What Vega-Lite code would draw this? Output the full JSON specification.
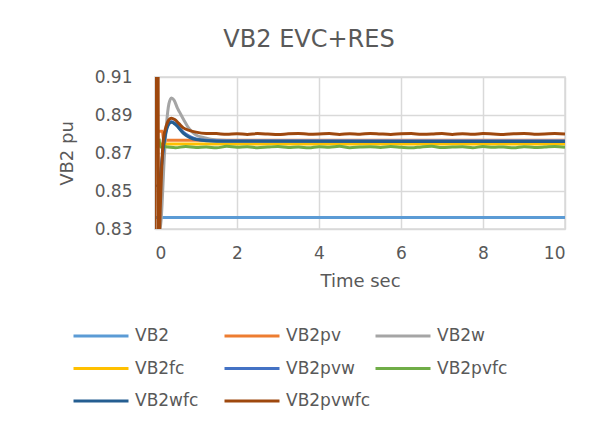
{
  "$schema": "https://vega.github.io/schema/vega-lite/v6.json",
  "width": 410,
  "height": 152,
  "autosize": {"type": "none"},
  "padding": {"left": 155, "top": 77, "right": 48, "bottom": 193},
  "background": "white",
  "title": {"text": "VB2 EVC+RES", "fontSize": 24, "font": "DejaVu Sans", "fontWeight": "normal", "color": "#595959", "anchor": "middle", "dx": -51, "offset": 16},
  "data": {"values": [
    {"t": 0, "s": "VB2", "v": 0.836}, {"t": 10, "s": "VB2", "v": 0.836},

    {"t": 0, "s": "VB2pv", "v": 0.8815}, {"t": 0.18, "s": "VB2pv", "v": 0.8815}, {"t": 0.21, "s": "VB2pv", "v": 0.8767}, {"t": 10, "s": "VB2pv", "v": 0.8767},

    {"t": 0, "s": "VB2w", "v": 0.83}, {"t": 0.08, "s": "VB2w", "v": 0.826}, {"t": 0.15, "s": "VB2w", "v": 0.835}, {"t": 0.17, "s": "VB2w", "v": 0.842}, {"t": 0.22, "s": "VB2w", "v": 0.865}, {"t": 0.28, "s": "VB2w", "v": 0.885}, {"t": 0.34, "s": "VB2w", "v": 0.896}, {"t": 0.4, "s": "VB2w", "v": 0.899}, {"t": 0.46, "s": "VB2w", "v": 0.898}, {"t": 0.55, "s": "VB2w", "v": 0.8935}, {"t": 0.6, "s": "VB2w", "v": 0.8915}, {"t": 0.7, "s": "VB2w", "v": 0.8875}, {"t": 0.8, "s": "VB2w", "v": 0.8838}, {"t": 0.9, "s": "VB2w", "v": 0.8812}, {"t": 1.0, "s": "VB2w", "v": 0.8795}, {"t": 1.2, "s": "VB2w", "v": 0.878}, {"t": 1.5, "s": "VB2w", "v": 0.8768}, {"t": 2, "s": "VB2w", "v": 0.8764}, {"t": 10, "s": "VB2w", "v": 0.8764},

    {"t": 0.05, "s": "VB2fc", "v": 0.8747}, {"t": 10, "s": "VB2fc", "v": 0.8747},

    {"t": 0.05, "s": "VB2pvw", "v": 0.8575}, {"t": 0.12, "s": "VB2pvw", "v": 0.8575}, {"t": 0.17, "s": "VB2pvw", "v": 0.866}, {"t": 0.22, "s": "VB2pvw", "v": 0.876}, {"t": 0.28, "s": "VB2pvw", "v": 0.883}, {"t": 0.35, "s": "VB2pvw", "v": 0.886}, {"t": 0.4, "s": "VB2pvw", "v": 0.8865}, {"t": 0.5, "s": "VB2pvw", "v": 0.8853}, {"t": 0.6, "s": "VB2pvw", "v": 0.883}, {"t": 0.7, "s": "VB2pvw", "v": 0.8807}, {"t": 0.85, "s": "VB2pvw", "v": 0.8786}, {"t": 1.0, "s": "VB2pvw", "v": 0.8774}, {"t": 1.3, "s": "VB2pvw", "v": 0.8766}, {"t": 2, "s": "VB2pvw", "v": 0.8763}, {"t": 10, "s": "VB2pvw", "v": 0.8763},

    {"t": 0.1, "s": "VB2pvfc", "v": 0.8775}, {"t": 0.13, "s": "VB2pvfc", "v": 0.8731},
    {"t": 0.25, "s": "VB2pvfc", "v": 0.8733}, {"t": 0.5, "s": "VB2pvfc", "v": 0.8728}, {"t": 0.75, "s": "VB2pvfc", "v": 0.8734}, {"t": 1.0, "s": "VB2pvfc", "v": 0.8729}, {"t": 1.25, "s": "VB2pvfc", "v": 0.8732}, {"t": 1.5, "s": "VB2pvfc", "v": 0.8727}, {"t": 1.75, "s": "VB2pvfc", "v": 0.8735}, {"t": 2.0, "s": "VB2pvfc", "v": 0.873}, {"t": 2.25, "s": "VB2pvfc", "v": 0.8733}, {"t": 2.5, "s": "VB2pvfc", "v": 0.8728}, {"t": 2.75, "s": "VB2pvfc", "v": 0.8731}, {"t": 3.0, "s": "VB2pvfc", "v": 0.8734}, {"t": 3.25, "s": "VB2pvfc", "v": 0.8729}, {"t": 3.5, "s": "VB2pvfc", "v": 0.8732}, {"t": 3.75, "s": "VB2pvfc", "v": 0.8727}, {"t": 4.0, "s": "VB2pvfc", "v": 0.8733}, {"t": 4.25, "s": "VB2pvfc", "v": 0.873}, {"t": 4.5, "s": "VB2pvfc", "v": 0.8735}, {"t": 4.75, "s": "VB2pvfc", "v": 0.8728}, {"t": 5.0, "s": "VB2pvfc", "v": 0.8731}, {"t": 5.25, "s": "VB2pvfc", "v": 0.8733}, {"t": 5.5, "s": "VB2pvfc", "v": 0.8729}, {"t": 5.75, "s": "VB2pvfc", "v": 0.8734}, {"t": 6.0, "s": "VB2pvfc", "v": 0.873}, {"t": 6.25, "s": "VB2pvfc", "v": 0.8727}, {"t": 6.5, "s": "VB2pvfc", "v": 0.8732}, {"t": 6.75, "s": "VB2pvfc", "v": 0.8735}, {"t": 7.0, "s": "VB2pvfc", "v": 0.8729}, {"t": 7.25, "s": "VB2pvfc", "v": 0.8731}, {"t": 7.5, "s": "VB2pvfc", "v": 0.8733}, {"t": 7.75, "s": "VB2pvfc", "v": 0.8728}, {"t": 8.0, "s": "VB2pvfc", "v": 0.8734}, {"t": 8.25, "s": "VB2pvfc", "v": 0.873}, {"t": 8.5, "s": "VB2pvfc", "v": 0.8732}, {"t": 8.75, "s": "VB2pvfc", "v": 0.8727}, {"t": 9.0, "s": "VB2pvfc", "v": 0.8733}, {"t": 9.25, "s": "VB2pvfc", "v": 0.8729}, {"t": 9.5, "s": "VB2pvfc", "v": 0.8731}, {"t": 9.75, "s": "VB2pvfc", "v": 0.8734}, {"t": 10.0, "s": "VB2pvfc", "v": 0.873},

    {"t": 0.05, "s": "VB2wfc", "v": 0.852}, {"t": 0.12, "s": "VB2wfc", "v": 0.856}, {"t": 0.2, "s": "VB2wfc", "v": 0.872}, {"t": 0.3, "s": "VB2wfc", "v": 0.8835}, {"t": 0.4, "s": "VB2wfc", "v": 0.8862}, {"t": 0.5, "s": "VB2wfc", "v": 0.885}, {"t": 0.7, "s": "VB2wfc", "v": 0.8802}, {"t": 1.0, "s": "VB2wfc", "v": 0.8771}, {"t": 1.5, "s": "VB2wfc", "v": 0.8762}, {"t": 10, "s": "VB2wfc", "v": 0.876},

    {"t": 0, "s": "VB2pvwfc", "v": 0.8}, {"t": 0.02, "s": "VB2pvwfc", "v": 0.95}, {"t": 0.07, "s": "VB2pvwfc", "v": 0.95}, {"t": 0.09, "s": "VB2pvwfc", "v": 0.8}, {"t": 0.11, "s": "VB2pvwfc", "v": 0.826}, {"t": 0.13, "s": "VB2pvwfc", "v": 0.842}, {"t": 0.16, "s": "VB2pvwfc", "v": 0.86}, {"t": 0.2, "s": "VB2pvwfc", "v": 0.8765}, {"t": 0.28, "s": "VB2pvwfc", "v": 0.8847}, {"t": 0.34, "s": "VB2pvwfc", "v": 0.8875}, {"t": 0.4, "s": "VB2pvwfc", "v": 0.8883}, {"t": 0.48, "s": "VB2pvwfc", "v": 0.8876}, {"t": 0.58, "s": "VB2pvwfc", "v": 0.8856}, {"t": 0.69, "s": "VB2pvwfc", "v": 0.8832}, {"t": 0.85, "s": "VB2pvwfc", "v": 0.8818}, {"t": 1.0, "s": "VB2pvwfc", "v": 0.881}, {"t": 1.25, "s": "VB2pvwfc", "v": 0.8803},
    {"t": 1.5, "s": "VB2pvwfc", "v": 0.8802}, {"t": 1.75, "s": "VB2pvwfc", "v": 0.8799}, {"t": 2.0, "s": "VB2pvwfc", "v": 0.8801}, {"t": 2.25, "s": "VB2pvwfc", "v": 0.8798}, {"t": 2.5, "s": "VB2pvwfc", "v": 0.8802}, {"t": 2.75, "s": "VB2pvwfc", "v": 0.88}, {"t": 3.0, "s": "VB2pvwfc", "v": 0.8797}, {"t": 3.25, "s": "VB2pvwfc", "v": 0.8801}, {"t": 3.5, "s": "VB2pvwfc", "v": 0.8803}, {"t": 3.75, "s": "VB2pvwfc", "v": 0.8799}, {"t": 4.0, "s": "VB2pvwfc", "v": 0.88}, {"t": 4.25, "s": "VB2pvwfc", "v": 0.8802}, {"t": 4.5, "s": "VB2pvwfc", "v": 0.8798}, {"t": 4.75, "s": "VB2pvwfc", "v": 0.8801}, {"t": 5.0, "s": "VB2pvwfc", "v": 0.8799}, {"t": 5.25, "s": "VB2pvwfc", "v": 0.8803}, {"t": 5.5, "s": "VB2pvwfc", "v": 0.88}, {"t": 5.75, "s": "VB2pvwfc", "v": 0.8798}, {"t": 6.0, "s": "VB2pvwfc", "v": 0.8801}, {"t": 6.25, "s": "VB2pvwfc", "v": 0.8802}, {"t": 6.5, "s": "VB2pvwfc", "v": 0.8799}, {"t": 6.75, "s": "VB2pvwfc", "v": 0.88}, {"t": 7.0, "s": "VB2pvwfc", "v": 0.8803}, {"t": 7.25, "s": "VB2pvwfc", "v": 0.8798}, {"t": 7.5, "s": "VB2pvwfc", "v": 0.8801}, {"t": 7.75, "s": "VB2pvwfc", "v": 0.8799}, {"t": 8.0, "s": "VB2pvwfc", "v": 0.8802}, {"t": 8.25, "s": "VB2pvwfc", "v": 0.88}, {"t": 8.5, "s": "VB2pvwfc", "v": 0.8798}, {"t": 8.75, "s": "VB2pvwfc", "v": 0.8801}, {"t": 9.0, "s": "VB2pvwfc", "v": 0.8803}, {"t": 9.25, "s": "VB2pvwfc", "v": 0.8799}, {"t": 9.5, "s": "VB2pvwfc", "v": 0.88}, {"t": 9.75, "s": "VB2pvwfc", "v": 0.8802}, {"t": 10.0, "s": "VB2pvwfc", "v": 0.88}
  ]},
  "mark": {"type": "line", "strokeWidth": 3, "clip": true, "interpolate": "monotone"},
  "encoding": {
    "x": {"field": "t", "type": "quantitative",
      "scale": {"domain": [0, 10], "nice": false, "zero": false},
      "axis": {"title": "Time sec", "values": [0, 2, 4, 6, 8, 10], "labelPadding": 16, "titlePadding": 11}},
    "y": {"field": "v", "type": "quantitative",
      "scale": {"domain": [0.83, 0.91], "nice": false, "zero": false},
      "axis": {"title": "VB2 pu", "values": [0.83, 0.85, 0.87, 0.89, 0.91], "format": ".2f", "labelPadding": 23, "titlePadding": 18}},
    "color": {"field": "s", "type": "nominal",
      "scale": {
        "domain": ["VB2", "VB2pv", "VB2w", "VB2fc", "VB2pvw", "VB2pvfc", "VB2wfc", "VB2pvwfc"],
        "range": ["#5B9BD5", "#ED7D31", "#A5A5A5", "#FFC000", "#4472C4", "#70AD47", "#255E91", "#9E480E"]},
      "legend": {
        "title": null, "orient": "none", "direction": "horizontal", "legendX": -65, "legendY": 248,
        "columns": 3, "gridAlign": "all", "columnPadding": -2, "rowPadding": 13.5,
        "symbolType": "M-3,0H3", "symbolSize": 336, "symbolStrokeWidth": 3, "labelOffset": 23,
        "labelFontSize": 17, "labelColor": "#595959", "labelFont": "DejaVu Sans"}},
    "order": {"field": "t", "type": "quantitative"}
  },
  "config": {
    "font": "DejaVu Sans",
    "view": {"stroke": "#D9D9D9", "strokeWidth": 1.5},
    "axis": {
      "domain": false, "ticks": false, "grid": true, "gridColor": "#D9D9D9", "gridWidth": 1.5,
      "labelFontSize": 17, "labelColor": "#595959", "titleFontSize": 18, "titleColor": "#595959",
      "titleFontWeight": "normal", "labelFont": "DejaVu Sans", "titleFont": "DejaVu Sans"
    }
  }
}
